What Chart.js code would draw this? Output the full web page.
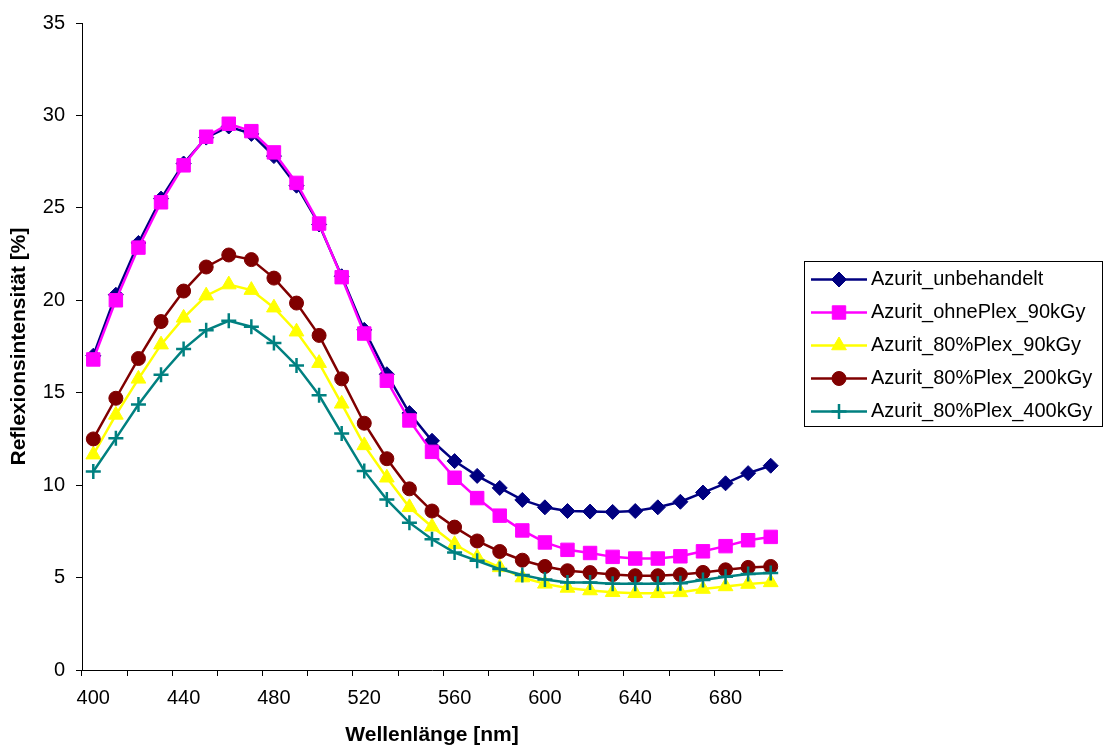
<!DOCTYPE html>
<html>
<head>
<meta charset="utf-8">
<script src="https://cdn.jsdelivr.net/npm/chart.js@4.4.1/dist/chart.umd.min.js"></script>
<style>
    html, body { margin: 0; padding: 0; background: #fff; }
    canvas { display: block; }
</style>
</head>
<body>
<canvas id="reflexChart" width="1104" height="751"></canvas>
<script>
// Wellenlaengen (Kategorien) in nm
const wavelengths = [400, 410, 420, 430, 440, 450, 460, 470, 480, 490, 500, 510, 520, 530, 540, 550,
    560, 570, 580, 590, 600, 610, 620, 630, 640, 650, 660, 670, 680, 690, 700];

// nur jede vierte Kategorie bekommt eine Beschriftung
const xTickLabels = [400, 440, 480, 520, 560, 600, 640, 680];

const seriesNames = ['Azurit_unbehandelt', 'Azurit_ohnePlex_90kGy', 'Azurit_80%Plex_90kGy',
    'Azurit_80%Plex_200kGy', 'Azurit_80%Plex_400kGy'];

const unbehandelt = [17.0, 20.3, 23.1, 25.5, 27.4, 28.8, 29.4, 29.0, 27.8, 26.2, 24.1, 21.3, 18.4, 16.0,
    13.9, 12.4, 11.3, 10.5, 9.85, 9.2, 8.8, 8.6, 8.57, 8.55, 8.6, 8.8, 9.1, 9.6, 10.1, 10.65, 11.05];
const ohnePlex90 = [16.8, 20.0, 22.85, 25.3, 27.3, 28.85, 29.55, 29.15, 28.0, 26.35, 24.15, 21.25, 18.2,
    15.65, 13.5, 11.8, 10.4, 9.3, 8.35, 7.55, 6.9, 6.5, 6.33, 6.12, 6.03, 6.03, 6.15, 6.42, 6.7, 7.02, 7.2];
const plex90 = [11.65, 13.8, 15.75, 17.6, 19.05, 20.25, 20.85, 20.55, 19.6, 18.3, 16.6, 14.4, 12.15, 10.4,
    8.8, 7.75, 6.8, 6.1, 5.55, 5.0, 4.66, 4.44, 4.3, 4.21, 4.15, 4.15, 4.2, 4.38, 4.52, 4.65, 4.74];
const plex200 = [12.5, 14.7, 16.85, 18.85, 20.5, 21.8, 22.45, 22.2, 21.2, 19.85, 18.1, 15.75, 13.35, 11.43,
    9.8, 8.6, 7.73, 6.98, 6.41, 5.94, 5.6, 5.37, 5.27, 5.16, 5.1, 5.1, 5.16, 5.28, 5.42, 5.55, 5.6];
const plex400 = [10.74, 12.53, 14.36, 15.97, 17.36, 18.38, 18.89, 18.57, 17.69, 16.47, 14.86, 12.8, 10.77,
    9.22, 7.97, 7.07, 6.35, 5.91, 5.46, 5.14, 4.89, 4.74, 4.74, 4.66, 4.66, 4.66, 4.69, 4.87, 5.05, 5.19, 5.25];

const yMin = 0;
const yMax = 35;
const yStep = 5;

const FONT = '"Liberation Sans", Arial, Helvetica, sans-serif';

function makeSeries(label, data, color, style, radius, order, pointBorderWidth) {
    return {
        label: label,
        data: data,
        borderColor: color,
        backgroundColor: color,
        borderWidth: 2.5,
        pointStyle: style,
        pointRadius: radius,
        pointBackgroundColor: color,
        pointBorderColor: color,
        pointBorderWidth: pointBorderWidth,
        pointHoverRadius: radius,
        tension: 0,
        order: order
    };
}

// Legende im Excel-Stil: Linie mit Marker, Rahmen
const excelLegend = {
    id: 'excelLegend',
    afterDraw(chart) {
        const ctx = chart.ctx;
        const boxLeft = 804.5, boxTop = 261.5, boxW = 298, boxH = 165;
        ctx.save();
        ctx.fillStyle = '#fff';
        ctx.fillRect(boxLeft, boxTop, boxW, boxH);
        ctx.strokeStyle = '#000';
        ctx.lineWidth = 1;
        ctx.strokeRect(boxLeft, boxTop, boxW, boxH);

        chart.data.datasets.forEach((ds, i) => {
            const y = 279.5 + i * 33;
            ctx.strokeStyle = ds.borderColor;
            ctx.lineWidth = ds.borderWidth;
            ctx.beginPath();
            ctx.moveTo(811, y);
            ctx.lineTo(867, y);
            ctx.stroke();

            ctx.fillStyle = ds.pointBackgroundColor;
            ctx.strokeStyle = ds.pointBorderColor;
            ctx.lineWidth = ds.pointBorderWidth;
            Chart.helpers.drawPoint(ctx, {
                pointStyle: ds.pointStyle,
                radius: ds.pointRadius,
                rotation: 0,
                borderWidth: ds.pointBorderWidth
            }, 839, y);

            ctx.fillStyle = '#000';
            ctx.font = '20px ' + FONT;
            ctx.textBaseline = 'middle';
            ctx.textAlign = 'left';
            ctx.fillText(ds.label, 871, y);
        });
        ctx.restore();
    }
};

function initChart() {
    const ctx = document.getElementById('reflexChart').getContext('2d');

    Chart.defaults.font.family = FONT;
    Chart.defaults.color = '#000';

    new Chart(ctx, {
        type: 'line',
        data: {
            labels: wavelengths,
            datasets: [
                makeSeries(seriesNames[0], unbehandelt, '#000080', 'rectRot', 7.5, 5, 1),
                makeSeries(seriesNames[1], ohnePlex90, '#FF00FF', 'rect', 9.5, 4, 1),
                makeSeries(seriesNames[2], plex90, '#FFFF00', 'triangle', 8.5, 3, 1),
                makeSeries(seriesNames[3], plex200, '#800000', 'circle', 7, 2, 1),
                makeSeries(seriesNames[4], plex400, '#008080', 'cross', 7.5, 1, 2.5)
            ]
        },
        options: {
            responsive: false,
            devicePixelRatio: 1,
            animation: false,
            layout: {
                padding: { top: 18, right: 322, left: 0, bottom: 0 }
            },
            plugins: {
                legend: { display: false },
                tooltip: { enabled: false }
            },
            scales: {
                x: {
                    type: 'category',
                    offset: true,
                    afterFit: function(scale) {
                        scale.height = 81;
                    },
                    grid: {
                        offset: true,
                        drawOnChartArea: false,
                        tickLength: 6,
                        tickWidth: 1,
                        tickColor: function(context) {
                            return context.index % 2 === 0 ? '#000' : 'rgba(0,0,0,0)';
                        }
                    },
                    border: { display: true, color: '#000', width: 1 },
                    ticks: {
                        autoSkip: false,
                        maxRotation: 0,
                        padding: 10,
                        font: { size: 20 },
                        callback: function(value, index) {
                            const w = wavelengths[index];
                            return xTickLabels.includes(w) ? String(w) : '';
                        }
                    },
                    title: {
                        display: true,
                        text: 'Wellenlänge [nm]',
                        font: { size: 21, weight: 'bold' },
                        padding: { top: 0, bottom: 3 }
                    }
                },
                y: {
                    min: yMin,
                    max: yMax,
                    afterFit: function(scale) {
                        scale.width = 82;
                    },
                    grid: {
                        drawOnChartArea: false,
                        tickLength: 6,
                        tickColor: '#000'
                    },
                    border: { display: true, color: '#000', width: 1 },
                    ticks: {
                        stepSize: yStep,
                        padding: 11,
                        font: { size: 20 }
                    },
                    title: {
                        display: true,
                        text: 'Reflexionsintensität [%]',
                        font: { size: 21, weight: 'bold' },
                        padding: { top: 7, bottom: 0 }
                    }
                }
            }
        },
        plugins: [excelLegend]
    });
}

document.addEventListener('DOMContentLoaded', initChart);
</script>
</body>
</html>
